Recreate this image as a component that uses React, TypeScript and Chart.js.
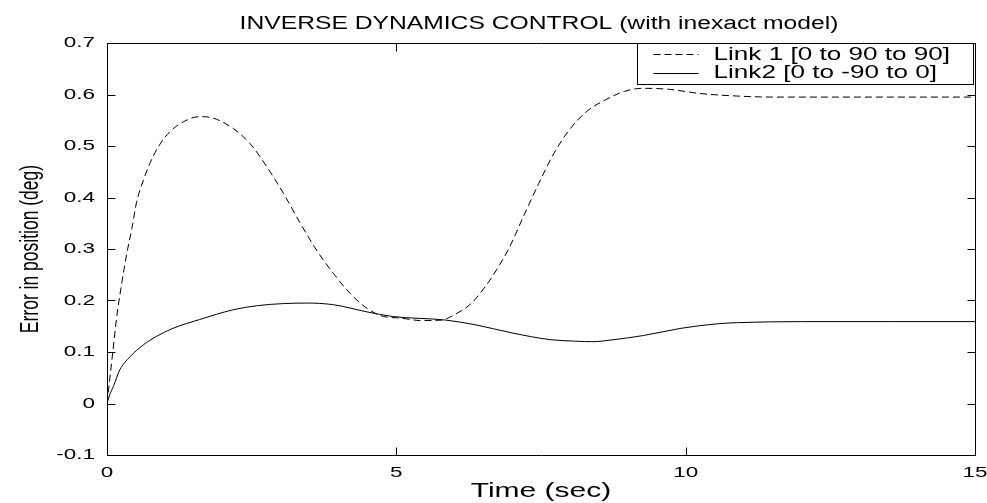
import React, { useEffect, useRef } from "react";
import { Chart, registerables } from "chart.js";

Chart.register(...registerables);

const TITLE = "INVERSE DYNAMICS CONTROL (with inexact model)";
const X_LABEL = "Time (sec)";
const Y_LABEL = "Error in position (deg)";
const SERIES_LABELS = ["Link 1 [0 to 90 to 90]", "Link2 [0 to -90 to 0]"];

const X_TICKS = [0, 5, 10, 15];
const X_TICK_LABELS = ["0", "5", "10", "15"];
const Y_TICKS = [-0.1, 0, 0.1, 0.2, 0.3, 0.4, 0.5, 0.6, 0.7];
const Y_TICK_LABELS = ["-0.1", "0", "0.1", "0.2", "0.3", "0.4", "0.5", "0.6", "0.7"];

const LINK1_T = [0, 0.05, 0.1, 0.17, 0.25, 0.34, 0.43, 0.51, 0.63, 0.74, 0.89, 1.09, 1.32, 1.6, 1.84, 2.18, 2.47, 2.76, 3.05, 3.34, 3.62, 3.91, 4.2, 4.49, 4.78, 5.06, 5.44, 5.78, 6.03, 6.29, 6.55, 6.74, 6.94, 7.2, 7.46, 7.72, 7.98, 8.3, 8.62, 8.94, 9.26, 9.72, 10.24, 10.89, 11.53, 12.5, 13.5, 15];
const LINK1_V = [0, 0.05, 0.1, 0.17, 0.23, 0.29, 0.34, 0.39, 0.434, 0.466, 0.499, 0.528, 0.547, 0.557, 0.554, 0.534, 0.505, 0.46, 0.408, 0.35, 0.298, 0.253, 0.214, 0.185, 0.169, 0.166, 0.161, 0.162, 0.174, 0.194, 0.229, 0.261, 0.3, 0.364, 0.427, 0.485, 0.53, 0.568, 0.59, 0.606, 0.612, 0.61, 0.602, 0.597, 0.595, 0.595, 0.595, 0.595];

const LINK2_T = [0, 0.05, 0.11, 0.22, 0.4, 0.63, 0.85, 1.14, 1.6, 2.18, 2.6, 3.05, 3.45, 3.9, 4.49, 4.93, 5.85, 6.36, 7.0, 7.66, 8.1, 8.4, 8.69, 9.27, 9.92, 10.57, 10.9, 12.0, 13.5, 15];
const LINK2_V = [0, 0.018, 0.033, 0.065, 0.091, 0.114, 0.13, 0.146, 0.163, 0.182, 0.19, 0.194, 0.195, 0.192, 0.178, 0.169, 0.162, 0.153, 0.137, 0.124, 0.121, 0.12, 0.123, 0.132, 0.146, 0.155, 0.157, 0.159, 0.159, 0.159];

const FONT = "'Liberation Sans', Arial, sans-serif";
const DASH = [7, 4];

function stretchText(ctx: CanvasRenderingContext2D, text: string, x: number, y: number, sx: number, align: CanvasTextAlign, baseline: CanvasTextBaseline = "alphabetic") {
  ctx.save();
  ctx.translate(x, y);
  ctx.scale(sx, 1);
  ctx.textAlign = align;
  ctx.textBaseline = baseline;
  ctx.fillText(text, 0, 0);
  ctx.restore();
}

const matlabAxes = {
  id: "matlabAxes",
  afterDatasetsDraw(chart: any) {
    const { ctx, chartArea: a, scales } = chart;
    const xs = scales.x;
    const ys = scales.y;
    const L = Math.round(a.left) + 0.5;
    const R = Math.round(a.right) + 0.5;
    const T = Math.round(a.top) + 0.5;
    const B = Math.round(a.bottom) + 0.5;
    const tl = 8;
    ctx.save();
    ctx.strokeStyle = "#000";
    ctx.fillStyle = "#000";
    ctx.lineWidth = 1;
    ctx.setLineDash([]);
    ctx.beginPath();
    ctx.rect(L, T, R - L, B - T);
    ctx.stroke();

    // inward ticks
    ctx.beginPath();
    X_TICKS.forEach((v) => {
      const px = Math.round(xs.getPixelForValue(v)) + 0.5;
      ctx.moveTo(px, B);
      ctx.lineTo(px, B - tl);
      ctx.moveTo(px, T);
      ctx.lineTo(px, T + tl);
    });
    Y_TICKS.forEach((v) => {
      const py = Math.round(ys.getPixelForValue(v)) + 0.5;
      ctx.moveTo(L, py);
      ctx.lineTo(L + tl, py);
      ctx.moveTo(R, py);
      ctx.lineTo(R - tl, py);
    });
    ctx.stroke();

    // tick labels
    ctx.font = `15.5px ${FONT}`;
    Y_TICKS.forEach((v, i) => {
      stretchText(ctx, Y_TICK_LABELS[i], a.left - 12, ys.getPixelForValue(v), 1.45, "right", "middle");
    });
    X_TICKS.forEach((v, i) => {
      stretchText(ctx, X_TICK_LABELS[i], xs.getPixelForValue(v), a.bottom + 22, 1.45, "center");
    });

    // title
    ctx.font = `18px ${FONT}`;
    stretchText(ctx, TITLE, (a.left + a.right) / 2 - 2, a.top - 14, 1.37, "center");

    // x label
    ctx.font = `20px ${FONT}`;
    stretchText(ctx, X_LABEL, (a.left + a.right) / 2, a.bottom + 42, 1.5, "center");

    // y label
    ctx.font = `17.5px ${FONT}`;
    ctx.save();
    ctx.translate(37.5, (a.top + a.bottom) / 2);
    ctx.rotate(-Math.PI / 2);
    ctx.scale(1, 1.5);
    ctx.textAlign = "center";
    ctx.textBaseline = "alphabetic";
    ctx.fillText(Y_LABEL, 0, 0);
    ctx.restore();

    // legend
    const bl = Math.round(a.right - 338) + 0.5;
    const br = Math.round(a.right - 2) + 0.5;
    const bt = T;
    const bb = Math.round(a.top + 41) + 0.5;
    ctx.fillStyle = "#fff";
    ctx.fillRect(bl, bt, br - bl, bb - bt);
    ctx.strokeRect(bl, bt, br - bl, bb - bt);
    ctx.fillStyle = "#000";
    const rows = [a.top + 10.5, a.top + 29.5];
    const bases = [a.top + 17, a.top + 35];
    chart.data.datasets.forEach((ds: any, i: number) => {
      ctx.save();
      ctx.setLineDash(ds.borderDash || []);
      ctx.beginPath();
      ctx.moveTo(bl + 16, Math.round(rows[i]) + 0.5);
      ctx.lineTo(bl + 61, Math.round(rows[i]) + 0.5);
      ctx.stroke();
      ctx.restore();
      ctx.font = `18px ${FONT}`;
      stretchText(ctx, ds.label, bl + 76, bases[i], 1.45, "left");
    });
    ctx.restore();
  },
};

export default function App() {
  const ref = useRef<HTMLCanvasElement | null>(null);
  useEffect(() => {
    document.body.style.margin = "0";
    const canvas = ref.current!;
    const chart = new Chart(canvas, {
      type: "line",
      data: {
        datasets: [
          {
            label: SERIES_LABELS[0],
            data: LINK1_T.map((t, i) => ({ x: t, y: LINK1_V[i] })),
            borderColor: "#000",
            borderWidth: 1,
            borderDash: DASH,
            pointRadius: 0,
            cubicInterpolationMode: "monotone",
            fill: false,
          },
          {
            label: SERIES_LABELS[1],
            data: LINK2_T.map((t, i) => ({ x: t, y: LINK2_V[i] })),
            borderColor: "#000",
            borderWidth: 1,
            pointRadius: 0,
            cubicInterpolationMode: "monotone",
            fill: false,
          },
        ],
      },
      options: {
        responsive: false,
        animation: false,
        layout: { padding: { left: 107, top: 43, right: 12, bottom: 48 } },
        scales: {
          x: { type: "linear", min: 0, max: 15, display: false },
          y: { type: "linear", min: -0.1, max: 0.7, display: false },
        },
        plugins: {
          legend: { display: false },
          title: { display: false },
          tooltip: { enabled: false },
        },
      },
      plugins: [matlabAxes],
    });
    return () => chart.destroy();
  }, []);
  return (
    <div style={{ width: 987, height: 503, background: "#fff" }}>
      <canvas ref={ref} width={987} height={503} style={{ display: "block" }} />
    </div>
  );
}
